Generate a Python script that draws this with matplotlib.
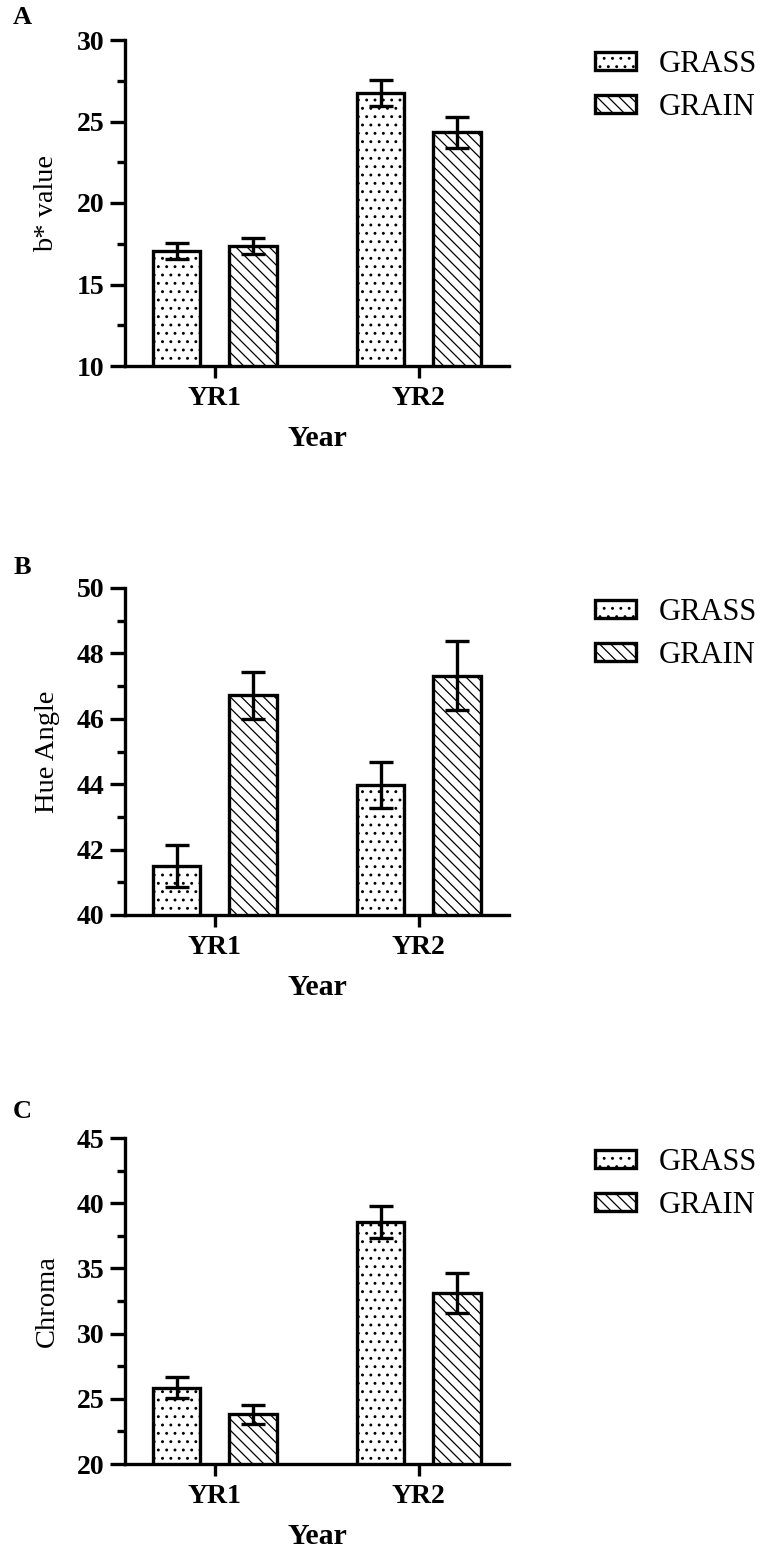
import matplotlib
matplotlib.use('Agg')
import matplotlib.pyplot as plt
import numpy as np
from matplotlib.ticker import MultipleLocator

plt.rcParams['font.family'] = ['Liberation Serif', 'DejaVu Serif']
plt.rcParams['hatch.linewidth'] = 0.9

years = ['YR1', 'YR2']
groups = ['GRASS', 'GRAIN']

b_grass = [17.05, 26.75]
b_grass_err = [0.5, 0.8]
b_grain = [17.35, 24.35]
b_grain_err = [0.5, 0.95]

hue_grass = [41.5, 43.98]
hue_grass_err = [0.65, 0.7]
hue_grain = [46.72, 47.32]
hue_grain_err = [0.72, 1.05]

chroma_grass = [25.85, 38.55]
chroma_grass_err = [0.8, 1.25]
chroma_grain = [23.8, 33.1]
chroma_grain_err = [0.75, 1.55]

y_labels = ['b* value', 'Hue Angle', 'Chroma']
panel_letters = ['A', 'B', 'C']
y_limits = [(10, 30), (40, 50), (20, 45)]
major_steps = [5, 2, 5]
minor_steps = [2.5, 1, 2.5]
x_label = 'Year'

panels = [
    (b_grass, b_grass_err, b_grain, b_grain_err),
    (hue_grass, hue_grass_err, hue_grain, hue_grain_err),
    (chroma_grass, chroma_grass_err, chroma_grain, chroma_grain_err),
]

W, H = 764, 1551
fig = plt.figure(figsize=(W / 100, H / 100), dpi=100)

ax_left, ax_right = 125, 509
tops = [40, 588, 1138]
bottoms = [366, 915, 1464]

px_per_unit = 204.0
offset = 0.1875
bar_w = 0.235
x = np.arange(len(years))
xlim = (-(214.75 - ax_left) / px_per_unit, 1 + (ax_right - 418.75) / px_per_unit)

LW = 2.4
for i, (g, ge, r, re) in enumerate(panels):
    top, bot = tops[i], bottoms[i]
    rect = [ax_left / W, 1 - bot / H, (ax_right - ax_left) / W, (bot - top) / H]
    ax = fig.add_axes(rect)
    b1 = ax.bar(x - offset, g, bar_w, facecolor='white', edgecolor='black',
                linewidth=LW, hatch='..', zorder=2, label=groups[0])
    b2 = ax.bar(x + offset, r, bar_w, facecolor='white', edgecolor='black',
                linewidth=LW, hatch='\\\\\\', zorder=2, label=groups[1])
    ax.errorbar(x - offset, g, yerr=ge, fmt='none', ecolor='black',
                elinewidth=LW, capsize=8.6, capthick=LW, zorder=3)
    ax.errorbar(x + offset, r, yerr=re, fmt='none', ecolor='black',
                elinewidth=LW, capsize=8.6, capthick=LW, zorder=3)

    ax.set_xlim(*xlim)
    ax.set_ylim(*y_limits[i])
    ax.yaxis.set_major_locator(MultipleLocator(major_steps[i]))
    ax.yaxis.set_minor_locator(MultipleLocator(minor_steps[i]))
    ax.set_xticks(x)
    ax.set_xticklabels(years)
    for s in ['top', 'right']:
        ax.spines[s].set_visible(False)
    for s in ['left', 'bottom']:
        ax.spines[s].set_linewidth(LW)
    ax.tick_params(axis='y', which='major', length=10.8, width=LW, labelsize=20, pad=4)
    ax.tick_params(axis='y', which='minor', length=5.8, width=LW)
    ax.tick_params(axis='x', which='major', length=8.6, width=LW, labelsize=20, pad=6)
    for lab in ax.get_xticklabels() + ax.get_yticklabels():
        lab.set_fontweight('bold')

    hpx = bot - top
    ax.text((47 - ax_left) / (ax_right - ax_left), 0.5, y_labels[i], transform=ax.transAxes,
            rotation=90, ha='center', va='center', fontsize=20.5)
    ax.text(0.5, -73 / hpx, x_label, transform=ax.transAxes, ha='center', va='center',
            fontsize=21.5, fontweight='bold')
    letter_y = [18, 567, 1112][i]
    fig.text(22 / W, 1 - letter_y / H, panel_letters[i], ha='center', va='center',
             fontsize=19, fontweight='bold')

    ax.legend(handles=[b1, b2], loc='upper left',
              bbox_to_anchor=((595 - ax_left) / (ax_right - ax_left), 1 - 10 / hpx),
              frameon=False, borderpad=0, borderaxespad=0, handlelength=1.35,
              handleheight=0.5, handletextpad=0.75, labelspacing=0.45, fontsize=22)

fig.savefig('out.png', dpi=100, facecolor='white')
